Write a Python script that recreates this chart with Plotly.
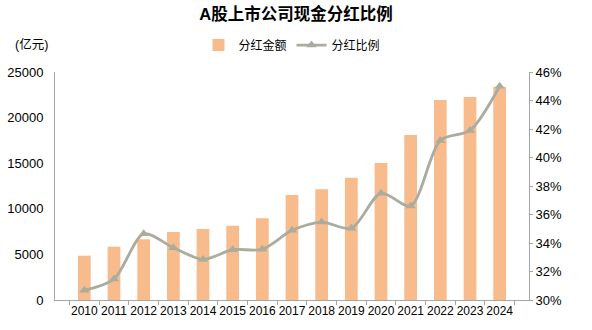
import plotly.graph_objects as go

years = [str(y) for y in range(2010, 2025)]
dividend_amount = [4860, 5850, 6650, 7450, 7780, 8150, 8960, 11500, 12140, 13410, 15020, 18090, 21930, 22260, 23390]
dividend_ratio = [30.68, 31.47, 34.65, 33.67, 32.85, 33.53, 33.56, 34.89, 35.47, 35.03, 37.5, 36.6, 41.2, 41.9, 45.0]

FONT = "Liberation Sans, Arial, Noto Sans CJK SC, sans-serif"

fig = go.Figure()
fig.add_trace(go.Bar(
    x=years, y=dividend_amount, name="分红金额",
    marker=dict(color="#F8BC8C", line=dict(width=0)),
    width=0.43, yaxis="y",
))
fig.add_trace(go.Scatter(
    x=years, y=dividend_ratio, name="分红比例", yaxis="y2",
    mode="lines+markers",
    line=dict(color="#A9AC9F", width=2.8, shape="spline", smoothing=0.8),
    marker=dict(symbol="triangle-up", size=9, color="#A9AC9F"),
))

fig.update_layout(
    width=592, height=330,
    margin=dict(l=55, r=63, t=72, b=30, autoexpand=False),
    paper_bgcolor="white", plot_bgcolor="white",
    font=dict(family=FONT, size=13, color="#000000"),
    title=dict(text="<b>A股上市公司现金分红比例</b>", x=0.5, xanchor="center",
               y=1 - 14 / 330, yanchor="middle", yref="container",
               font=dict(size=16.5, family=FONT, color="#000000")),
    showlegend=True,
    legend=dict(orientation="h", x=0.5, xanchor="center", y=1.118, yanchor="middle",
                font=dict(size=12), itemwidth=30, bgcolor="rgba(0,0,0,0)"),
    bargap=0.55,
    xaxis=dict(
        type="category", showgrid=False, showline=True, linecolor="#A6A6A6", linewidth=1,
        ticks="outside", ticklen=4, tickcolor="#A6A6A6", tickson="boundaries",
        tickfont=dict(size=12), zeroline=False, tickangle=0, automargin=False,
    ),
    yaxis=dict(
        range=[0, 25000], dtick=5000, tickformat="d", showgrid=False, showline=True,
        linecolor="#A6A6A6", linewidth=1, ticks="", zeroline=False,
        tickfont=dict(size=13), ticklabelstandoff=8, automargin=False,
    ),
    yaxis2=dict(
        range=[30, 46], dtick=2, overlaying="y", side="right", showgrid=False,
        showline=True, linecolor="#A6A6A6", linewidth=1, ticks="outside", ticklen=3,
        tickcolor="#A6A6A6", ticksuffix="%", zeroline=False, tickfont=dict(size=13),
        automargin=False,
    ),
    annotations=[dict(text="(亿元)", xref="paper", yref="paper", x=-0.05, y=1 + 28 / 228,
                      xanchor="center", yanchor="middle", showarrow=False,
                      font=dict(size=12.5, family=FONT))],
)

fig.write_html("out.html")
